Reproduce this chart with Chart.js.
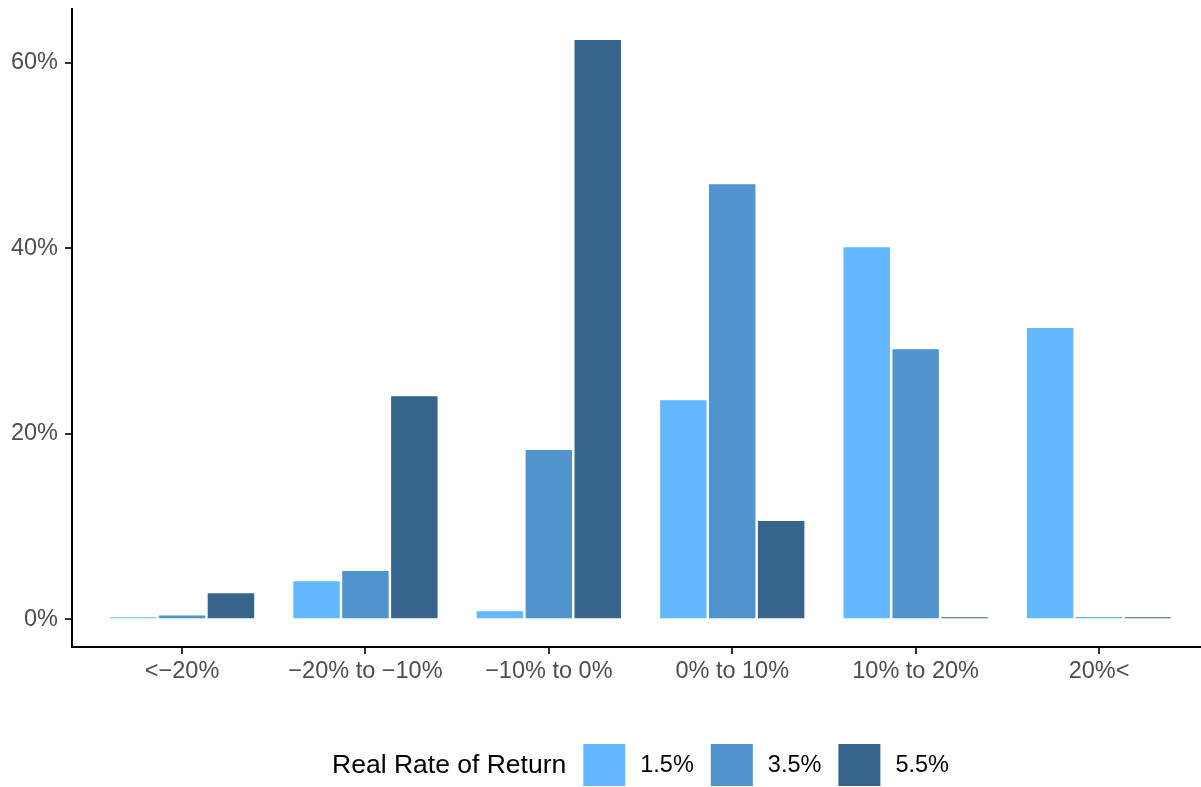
<!DOCTYPE html>
<html>
<head>
<meta charset="utf-8">
<script src="https://cdn.jsdelivr.net/npm/chart.js@4/dist/chart.umd.min.js"></script>
<style>
    html, body { margin: 0; padding: 0; background: #ffffff; }
    #wrap { width: 1201px; height: 787px; }
</style>
</head>
<body>
<div id="wrap"><canvas id="returnChart" width="1201" height="787"></canvas></div>
<script>
const categories = ["<\u221220%", "\u221220% to \u221210%", "\u221210% to 0%", "0% to 10%", "10% to 20%", "20%<"];
const seriesLabels = ["1.5%", "3.5%", "5.5%"];
const seriesColors = ["#63B8FF", "#4F94CD", "#36648B"];
const rate15 = [0.1, 4.1, 0.85, 23.6, 40.1, 31.4];
const rate35 = [0.4, 5.2, 18.25, 46.9, 29.1, 0.1];
const rate55 = [2.8, 24.05, 62.45, 10.6, 0.1, 0.1];
const yTickValues = [0, 20, 40, 60];
const legendTitle = "Real Rate of Return";

const fontFamily = "'Liberation Sans', Arial, Helvetica, sans-serif";

function toPoints(values) {
    return values.map(function (v, i) {
        return { x: i + 1, y: v };
    });
}

// ggplot style legend: title on the left, keys in a row
const bottomLegend = {
    id: "bottomLegend",
    afterDraw: function (chart) {
        const ctx = chart.ctx;
        const area = chart.chartArea;
        const boxSize = 42;
        const midY = 765;

        ctx.save();
        ctx.textBaseline = "middle";
        ctx.textAlign = "left";

        ctx.font = "26.5px " + fontFamily;
        const titleWidth = ctx.measureText(legendTitle).width;
        ctx.font = "23.5px " + fontFamily;
        const labelWidths = chart.data.datasets.map(function (ds) {
            return ctx.measureText(ds.label).width;
        });

        let total = titleWidth + 17;
        labelWidths.forEach(function (w, i) {
            total += boxSize + 15 + w + (i < labelWidths.length - 1 ? 17 : 0);
        });

        let x = (area.left + area.right) / 2 - total / 2 + 4;
        ctx.fillStyle = "#000000";
        ctx.font = "26.5px " + fontFamily;
        ctx.fillText(legendTitle, x, midY + 1);
        x += titleWidth + 17;

        ctx.font = "23.5px " + fontFamily;
        chart.data.datasets.forEach(function (ds, i) {
            ctx.fillStyle = ds.backgroundColor;
            ctx.fillRect(x, midY - boxSize / 2, boxSize, boxSize);
            x += boxSize + 15;
            ctx.fillStyle = "#000000";
            ctx.fillText(ds.label, x, midY + 1);
            x += labelWidths[i] + 17;
        });
        ctx.restore();
    }
};

function noScalePadding(scale) {
    scale.paddingTop = 0;
    scale.paddingBottom = 0;
    scale.paddingLeft = 0;
    scale.paddingRight = 0;
}

const canvas = document.getElementById("returnChart");

const ReturnChart = new Chart(canvas, {
    type: "bar",
    data: {
        datasets: [
            { label: seriesLabels[0], data: toPoints(rate15), backgroundColor: seriesColors[0] },
            { label: seriesLabels[1], data: toPoints(rate35), backgroundColor: seriesColors[1] },
            { label: seriesLabels[2], data: toPoints(rate55), backgroundColor: seriesColors[2] }
        ]
    },
    options: {
        responsive: false,
        animation: false,
        maintainAspectRatio: false,
        layout: {
            padding: { top: 9, right: 0, bottom: 0, left: 0 }
        },
        datasets: {
            bar: {
                categoryPercentage: 0.8,
                barPercentage: 0.95,
                borderWidth: 0,
                minBarLength: 2
            }
        },
        plugins: {
            legend: { display: false },
            tooltip: { enabled: false }
        },
        scales: {
            x: {
                type: "linear",
                min: 0.4,
                max: 6.556,
                offset: false,
                afterBuildTicks: function (scale) {
                    scale.ticks = categories.map(function (c, i) {
                        return { value: i + 1 };
                    });
                },
                afterFit: function (scale) {
                    scale.height = 140;
                    noScalePadding(scale);
                },
                ticks: {
                    autoSkip: false,
                    maxRotation: 0,
                    padding: 3,
                    color: "#4D4D4D",
                    font: { family: fontFamily, size: 23.5 },
                    callback: function (value) {
                        return categories[value - 1];
                    }
                },
                grid: {
                    offset: false,
                    drawOnChartArea: false,
                    drawTicks: true,
                    tickLength: 7,
                    color: "#333333",
                    lineWidth: 2
                },
                border: { display: true, color: "#000000", width: 2 }
            },
            y: {
                min: -3.0,
                max: 65.8,
                afterBuildTicks: function (scale) {
                    scale.ticks = yTickValues.map(function (v) {
                        return { value: v };
                    });
                },
                afterFit: function (scale) {
                    scale.width = 72;
                    noScalePadding(scale);
                },
                ticks: {
                    padding: 7,
                    color: "#4D4D4D",
                    font: { family: fontFamily, size: 23.5 },
                    callback: function (value) {
                        return value + "%";
                    }
                },
                grid: {
                    drawOnChartArea: false,
                    drawTicks: true,
                    tickLength: 7,
                    color: "#333333",
                    lineWidth: 2
                },
                border: { display: true, color: "#000000", width: 2 }
            }
        }
    },
    plugins: [bottomLegend]
});
</script>
</body>
</html>
